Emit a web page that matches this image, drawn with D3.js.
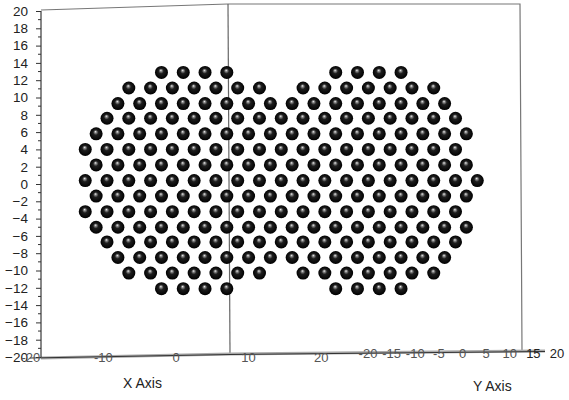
<!DOCTYPE html>
<html>
<head>
<meta charset="utf-8">
<script src="https://cdn.jsdelivr.net/npm/d3@7"></script>
<style>
  body { margin: 0; background: #fff; }
  text { font-family: "Liberation Sans", Arial, sans-serif; }
</style>
</head>
<body>
<div id="chart"></div>
<script>
// 3D-style plot of packed spheres: two overlapping hexagonal disks

var yTicks = [20, 18, 16, 14, 12, 10, 8, 6, 4, 2, 0, -2, -4, -6, -8, -10, -12, -14, -16, -18, -20];
var xTicks = [-20, -10, 0, 10, 20];
var depthTicks = [-20, -15, -10, -5, 0, 5, 10, 15, 20];

// y value of every row of spheres, top to bottom
var rowY = [12.9, 11.1, 9.3, 7.6, 5.8, 4.0, 2.2, 0.4, -1.4, -3.2, -5.0, -6.7, -8.5, -10.3, -12.1];

// x values of the spheres in each row
var rowX = [
  [-2, 1, 4, 7, 22, 25, 28, 31],
  [-6.5, -3.5, -0.5, 2.5, 5.5, 8.5, 11.5, 17.5, 20.5, 23.5, 26.5, 29.5, 32.5, 35.5],
  [-8, -5, -2, 1, 4, 7, 10, 13, 16, 19, 22, 25, 28, 31, 34, 37],
  [-9.5, -6.5, -3.5, -0.5, 2.5, 5.5, 8.5, 11.5, 14.5, 17.5, 20.5, 23.5, 26.5, 29.5, 32.5, 35.5, 38.5],
  [-11, -8, -5, -2, 1, 4, 7, 10, 13, 16, 19, 22, 25, 28, 31, 34, 37, 40],
  [-12.5, -9.5, -6.5, -3.5, -0.5, 2.5, 5.5, 8.5, 11.5, 14.5, 17.5, 20.5, 23.5, 26.5, 29.5, 32.5, 35.5, 38.5],
  [-11, -8, -5, -2, 1, 4, 7, 10, 13, 16, 19, 22, 25, 28, 31, 34, 37, 40],
  [-12.5, -9.5, -6.5, -3.5, -0.5, 2.5, 5.5, 8.5, 11.5, 14.5, 17.5, 20.5, 23.5, 26.5, 29.5, 32.5, 35.5, 38.5, 41.5],
  [-11, -8, -5, -2, 1, 4, 7, 10, 13, 16, 19, 22, 25, 28, 31, 34, 37, 40],
  [-12.5, -9.5, -6.5, -3.5, -0.5, 2.5, 5.5, 8.5, 11.5, 14.5, 17.5, 20.5, 23.5, 26.5, 29.5, 32.5, 35.5, 38.5],
  [-11, -8, -5, -2, 1, 4, 7, 10, 13, 16, 19, 22, 25, 28, 31, 34, 37, 40],
  [-9.5, -6.5, -3.5, -0.5, 2.5, 5.5, 8.5, 11.5, 14.5, 17.5, 20.5, 23.5, 26.5, 29.5, 32.5, 35.5, 38.5],
  [-8, -5, -2, 1, 4, 7, 10, 13, 16, 19, 22, 25, 28, 31, 34, 37],
  [-6.5, -3.5, -0.5, 2.5, 5.5, 8.5, 11.5, 17.5, 20.5, 23.5, 26.5, 29.5, 32.5, 35.5],
  [-2, 1, 4, 7, 22, 25, 28, 31]
];

var width = 569;
var height = 400;
var ballRadius = 6.5;
var labelColor = '#222';

var points = [];
rowX.forEach(function (xs, i) {
  xs.forEach(function (x) { points.push({ x: x, y: rowY[i] }); });
});

var svg = d3.select('#chart').append('svg')
  .attr('width', width)
  .attr('height', height);

var xScale = d3.scaleLinear().domain([-20, 20]).range([30.8, 321.2]);
var yScale = d3.scaleLinear().domain([-20, 20]).range([357, 11]);
var depthScale = d3.scaleLinear().domain([-20, 20]).range([368, 557]);

// sphere shading
var grad = svg.append('defs').append('radialGradient')
  .attr('id', 'ball')
  .attr('cx', '50%').attr('cy', '50%').attr('r', '50%')
  .attr('fx', '45%').attr('fy', '33%');
grad.append('stop').attr('offset', '0%').attr('stop-color', '#f4f4f4');
grad.append('stop').attr('offset', '16%').attr('stop-color', '#8a8a8a');
grad.append('stop').attr('offset', '40%').attr('stop-color', '#1e1e1e');
grad.append('stop').attr('offset', '100%').attr('stop-color', '#000');

// box edges
var frame = svg.append('g').attr('fill', 'none');
frame.append('path').attr('d', 'M41,10 L228,4 L520,4 L522,350').attr('stroke', '#777').attr('stroke-width', 1.2);
frame.append('path').attr('d', 'M228,4 L230,353').attr('stroke', '#666').attr('stroke-width', 1.2);
frame.append('path').attr('d', 'M41,358 L230,354 L545,351').attr('stroke', '#aaa').attr('stroke-width', 3);
frame.append('path').attr('d', 'M30,358 L230,354.5 L545,351.5').attr('stroke', '#333').attr('stroke-width', 1);

// left axis
var yAxis = d3.axisLeft(yScale)
  .tickValues(yTicks)
  .tickSize(5)
  .tickPadding(8)
  .tickFormat(d3.format('d'));
var gy = svg.append('g')
  .attr('transform', 'translate(41,0)')
  .call(yAxis);
gy.select('.domain').attr('d', 'M0,' + yScale(20) + 'V' + yScale(-20)).attr('stroke', '#111');
gy.selectAll('text').style('font-size', '13.5px').attr('fill', labelColor);
gy.selectAll('line').attr('stroke', '#333');
gy.selectAll('.minor')
  .data(yTicks.slice(1).map(function (d) { return d + 1; }))
  .enter().append('line')
  .attr('x1', -3).attr('x2', 0)
  .attr('y1', function (d) { return yScale(d); })
  .attr('y2', function (d) { return yScale(d); })
  .attr('stroke', '#333');

// bottom x axis labels
svg.append('g').selectAll('text')
  .data(xTicks)
  .enter().append('text')
  .attr('x', function (d) { return xScale(d); })
  .attr('y', 362)
  .attr('text-anchor', 'middle')
  .style('font-size', '13px')
  .attr('fill', '#555')
  .text(function (d) { return d; });

// depth axis labels
svg.append('g').selectAll('text')
  .data(depthTicks)
  .enter().append('text')
  .attr('x', function (d) { return depthScale(d); })
  .attr('y', 357.5)
  .attr('text-anchor', 'middle')
  .style('font-size', '13px')
  .attr('fill', function (d) { return d > 10 ? '#222' : '#555'; })
  .text(function (d) { return d; });

svg.append('text')
  .attr('x', 123).attr('y', 388)
  .style('font-size', '14px')
  .attr('fill', labelColor)
  .text('X Axis');

svg.append('text')
  .attr('x', 473).attr('y', 391)
  .style('font-size', '14px')
  .attr('fill', labelColor)
  .text('Y Axis');

// spheres
svg.append('g').selectAll('circle')
  .data(points)
  .enter().append('circle')
  .attr('cx', function (d) { return xScale(d.x); })
  .attr('cy', function (d) { return yScale(d.y); })
  .attr('r', ballRadius)
  .attr('fill', 'url(#ball)');
</script>
</body>
</html>
